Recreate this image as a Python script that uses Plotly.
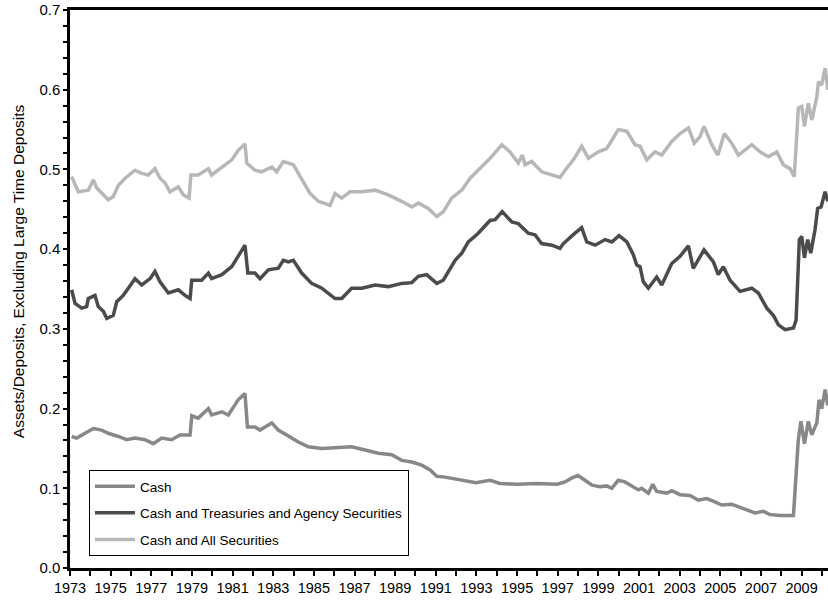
import plotly.graph_objects as go

# ---- Data (decimal years, ratios) ----
all_years = [1973.08, 1973.41, 1973.90, 1973.98, 1974.15, 1974.31, 1974.56, 1974.88, 1975.13, 1975.38,
             1975.71, 1976.20, 1976.53, 1976.85, 1977.18, 1977.43, 1977.68, 1977.92, 1978.33, 1978.58,
             1978.86, 1978.95, 1979.31, 1979.81, 1979.97, 1980.47, 1980.96, 1981.28, 1981.61, 1981.70,
             1982.10, 1982.43, 1982.93, 1983.17, 1983.50, 1983.99, 1984.40, 1984.81, 1985.22, 1985.80,
             1986.04, 1986.37, 1986.78, 1987.36, 1988.01, 1988.66, 1989.32, 1989.82, 1990.14, 1990.63,
             1991.05, 1991.37, 1991.78, 1992.28, 1992.69, 1993.26, 1993.75, 1994.25, 1994.65, 1995.06,
             1995.26, 1995.39, 1995.72, 1996.21, 1996.71, 1997.11, 1997.36, 1997.77, 1998.18, 1998.51,
             1999.00, 1999.41, 1999.98, 2000.40, 2000.80, 2001.05, 2001.38, 2001.79, 2002.12, 2002.61,
             2003.02, 2003.43, 2003.72, 2004.00, 2004.20, 2004.58, 2004.88, 2005.20, 2005.56, 2005.89,
             2006.55, 2006.96, 2007.36, 2007.78, 2008.10, 2008.43, 2008.64, 2008.84, 2009.01, 2009.14,
             2009.33, 2009.50, 2009.75, 2009.83, 2009.99, 2010.16, 2010.29]
all_vals = [0.491, 0.472, 0.474, 0.478, 0.487, 0.477, 0.470, 0.462, 0.466, 0.480,
            0.489, 0.499, 0.495, 0.493, 0.501, 0.489, 0.483, 0.472, 0.478, 0.468,
            0.464, 0.493, 0.493, 0.501, 0.493, 0.503, 0.512, 0.524, 0.532, 0.508,
            0.499, 0.497, 0.503, 0.497, 0.510, 0.506, 0.487, 0.470, 0.460, 0.455,
            0.470, 0.464, 0.472, 0.472, 0.474, 0.468, 0.460, 0.453, 0.458, 0.451,
            0.441, 0.447, 0.464, 0.474, 0.489, 0.503, 0.516, 0.531, 0.522, 0.508,
            0.518, 0.506, 0.510, 0.497, 0.493, 0.490, 0.499, 0.512, 0.529, 0.514,
            0.522, 0.526, 0.550, 0.548, 0.531, 0.529, 0.512, 0.522, 0.518, 0.535,
            0.545, 0.552, 0.533, 0.541, 0.554, 0.531, 0.518, 0.545, 0.533, 0.518,
            0.531, 0.522, 0.516, 0.522, 0.506, 0.501, 0.491, 0.577, 0.579, 0.554,
            0.583, 0.562, 0.591, 0.610, 0.606, 0.627, 0.600]

tre_years = [1973.08, 1973.25, 1973.58, 1973.82, 1973.90, 1974.23, 1974.39, 1974.64, 1974.81, 1975.13,
             1975.30, 1975.62, 1975.87, 1976.20, 1976.53, 1976.94, 1977.18, 1977.43, 1977.84, 1978.33,
             1978.66, 1978.91, 1978.99, 1979.48, 1979.81, 1979.97, 1980.47, 1980.96, 1981.37, 1981.61,
             1981.75, 1982.10, 1982.35, 1982.76, 1983.25, 1983.50, 1983.74, 1983.99, 1984.40, 1984.89,
             1985.39, 1986.04, 1986.37, 1986.86, 1987.36, 1988.01, 1988.66, 1989.32, 1989.82, 1990.14,
             1990.55, 1991.05, 1991.37, 1991.70, 1991.95, 1992.28, 1992.60, 1993.09, 1993.67, 1993.92,
             1994.27, 1994.74, 1995.06, 1995.55, 1995.88, 1996.21, 1996.71, 1997.11, 1997.28, 1997.85,
             1998.18, 1998.43, 1998.84, 1999.33, 1999.66, 2000.02, 2000.40, 2000.72, 2000.89, 2001.05,
             2001.21, 2001.46, 2001.87, 2002.12, 2002.61, 2003.02, 2003.43, 2003.67, 2003.92, 2004.20,
             2004.66, 2004.90, 2005.15, 2005.48, 2005.97, 2006.55, 2006.87, 2007.29, 2007.61, 2007.86,
             2008.19, 2008.60, 2008.73, 2008.89, 2009.01, 2009.14, 2009.30, 2009.45, 2009.66, 2009.79,
             2009.96, 2010.16, 2010.29]
tre_vals = [0.349, 0.332, 0.326, 0.328, 0.338, 0.342, 0.328, 0.322, 0.313, 0.317,
            0.334, 0.342, 0.351, 0.363, 0.355, 0.363, 0.372, 0.359, 0.345, 0.349,
            0.342, 0.338, 0.361, 0.361, 0.370, 0.363, 0.368, 0.378, 0.395, 0.405,
            0.370, 0.370, 0.363, 0.374, 0.376, 0.386, 0.384, 0.386, 0.370, 0.357,
            0.351, 0.338, 0.338, 0.351, 0.351, 0.355, 0.353, 0.357, 0.358, 0.366,
            0.368, 0.357, 0.361, 0.376, 0.386, 0.395, 0.409, 0.420, 0.436, 0.437,
            0.447, 0.434, 0.432, 0.420, 0.418, 0.407, 0.405, 0.401, 0.407, 0.420,
            0.427, 0.409, 0.405, 0.412, 0.409, 0.417, 0.409, 0.393, 0.380, 0.378,
            0.359, 0.351, 0.365, 0.355, 0.382, 0.391, 0.404, 0.376, 0.386, 0.399,
            0.384, 0.368, 0.378, 0.361, 0.347, 0.351, 0.345, 0.326, 0.317, 0.305,
            0.299, 0.301, 0.311, 0.412, 0.416, 0.389, 0.412, 0.395, 0.424, 0.451,
            0.453, 0.472, 0.460]

cash_years = [1973.08, 1973.33, 1973.74, 1974.15, 1974.56, 1974.88, 1975.38, 1975.79, 1976.20, 1976.69,
              1977.10, 1977.51, 1978.00, 1978.41, 1978.91, 1978.99, 1979.31, 1979.81, 1979.97, 1980.47,
              1980.79, 1980.96, 1981.28, 1981.61, 1981.73, 1982.10, 1982.35, 1982.60, 1982.93, 1983.25,
              1983.74, 1984.24, 1984.73, 1985.39, 1986.04, 1986.86, 1987.52, 1988.17, 1988.83, 1989.32,
              1989.82, 1990.31, 1990.72, 1991.05, 1991.45, 1992.19, 1992.98, 1993.67, 1994.16, 1995.00,
              1995.98, 1996.97, 1997.36, 1997.70, 1998.00, 1998.34, 1998.69, 1999.08, 1999.41, 1999.66,
              1999.98, 2000.31, 2000.72, 2000.97, 2001.13, 2001.46, 2001.68, 2001.87, 2002.37, 2002.61,
              2003.02, 2003.51, 2003.92, 2004.33, 2004.74, 2005.07, 2005.56, 2006.13, 2006.71, 2007.12,
              2007.45, 2007.94, 2008.60, 2008.84, 2008.97, 2009.14, 2009.33, 2009.50, 2009.75, 2009.86,
              2009.99, 2010.16, 2010.29]
cash_vals = [0.165, 0.163, 0.169, 0.175, 0.173, 0.169, 0.165, 0.161, 0.163, 0.161,
             0.156, 0.163, 0.161, 0.167, 0.167, 0.191, 0.188, 0.200, 0.192, 0.196,
             0.192, 0.198, 0.211, 0.219, 0.177, 0.177, 0.173, 0.177, 0.182, 0.173,
             0.165, 0.158, 0.152, 0.150, 0.151, 0.152, 0.148, 0.144, 0.142, 0.135,
             0.133, 0.129, 0.123, 0.115, 0.114, 0.111, 0.107, 0.110, 0.106, 0.105,
             0.106, 0.105, 0.108, 0.113, 0.116, 0.110, 0.104, 0.102, 0.103, 0.100,
             0.110, 0.108, 0.102, 0.098, 0.100, 0.094, 0.105, 0.096, 0.094, 0.097,
             0.092, 0.091, 0.085, 0.087, 0.083, 0.079, 0.080, 0.075, 0.069, 0.071,
             0.067, 0.066, 0.066, 0.161, 0.184, 0.156, 0.184, 0.167, 0.182, 0.211,
             0.200, 0.224, 0.204]

series_names = ["Cash", "Cash and Treasuries and Agency Securities", "Cash and All Securities"]
series_colors = ["#888888", "#4b4b4b", "#b7b7b7"]

x_tickvals = list(range(1973, 2010, 2))
x_ticktext = [str(y) for y in x_tickvals]
y_tickvals = [0.0, 0.1, 0.2, 0.3, 0.4, 0.5, 0.6, 0.7]
y_ticktext = ["0.0", "0.1", "0.2", "0.3", "0.4", "0.5", "0.6", "0.7"]
y_title = "Assets/Deposits, Excluding Large Time Deposits"

FONT = "Liberation Sans, Arial, Helvetica, sans-serif"

fig = go.Figure()
for i, (xs, ys) in enumerate([(cash_years, cash_vals), (tre_years, tre_vals), (all_years, all_vals)]):
    fig.add_trace(go.Scatter(
        x=xs, y=ys, mode="lines", name=series_names[i],
        legendgroup=f"g{i}",
        line=dict(color=series_colors[i], width=3.5),
    ))

fig.add_annotation(
    text=y_title, textangle=-90, showarrow=False,
    xref="paper", yref="paper", x=-0.0686, y=0.532,
    xanchor="center", yanchor="middle",
    font=dict(family=FONT, size=15.5, color="black"),
)

fig.update_layout(
    width=828, height=600,
    margin=dict(l=70, r=0, t=10, b=32, autoexpand=False),
    paper_bgcolor="white", plot_bgcolor="white",
    font=dict(family=FONT, size=14, color="black"),
    showlegend=True,
    hovermode=False,
    legend=dict(
        x=0.025, y=0.0215, xanchor="left", yanchor="bottom",
        bordercolor="black", borderwidth=1, bgcolor="white",
        font=dict(family=FONT, size=13.5, color="black"),
        traceorder="grouped", tracegroupgap=6,
        itemwidth=40,
    ),
    xaxis=dict(
        range=[1973, 2010.3],
        tickmode="array", tickvals=x_tickvals, ticktext=x_ticktext,
        ticks="outside", ticklen=5, tickwidth=2, tickcolor="black",
        minor=dict(dtick=1, tick0=1973, ticks="outside", ticklen=5, tickwidth=2, tickcolor="black"),
        showline=True, linecolor="black", linewidth=2.5, mirror=True,
        showgrid=False, zeroline=False, automargin=False,
        tickfont=dict(family=FONT, size=14.5),
    ),
    yaxis=dict(
        range=[0, 0.7],
        tickmode="array", tickvals=y_tickvals, ticktext=y_ticktext,
        ticks="outside", ticklen=4, tickwidth=2, tickcolor="black",
        minor=dict(dtick=0.02, tick0=0, ticks="outside", ticklen=4, tickwidth=2, tickcolor="black"),
        showline=True, linecolor="black", linewidth=2.5,
        showgrid=False, zeroline=False, automargin=False,
        tickfont=dict(family=FONT, size=15),
    ),
)

fig.write_html("out.html", config={"displayModeBar": False},
               post_script="document.body.style.margin='0px';")
